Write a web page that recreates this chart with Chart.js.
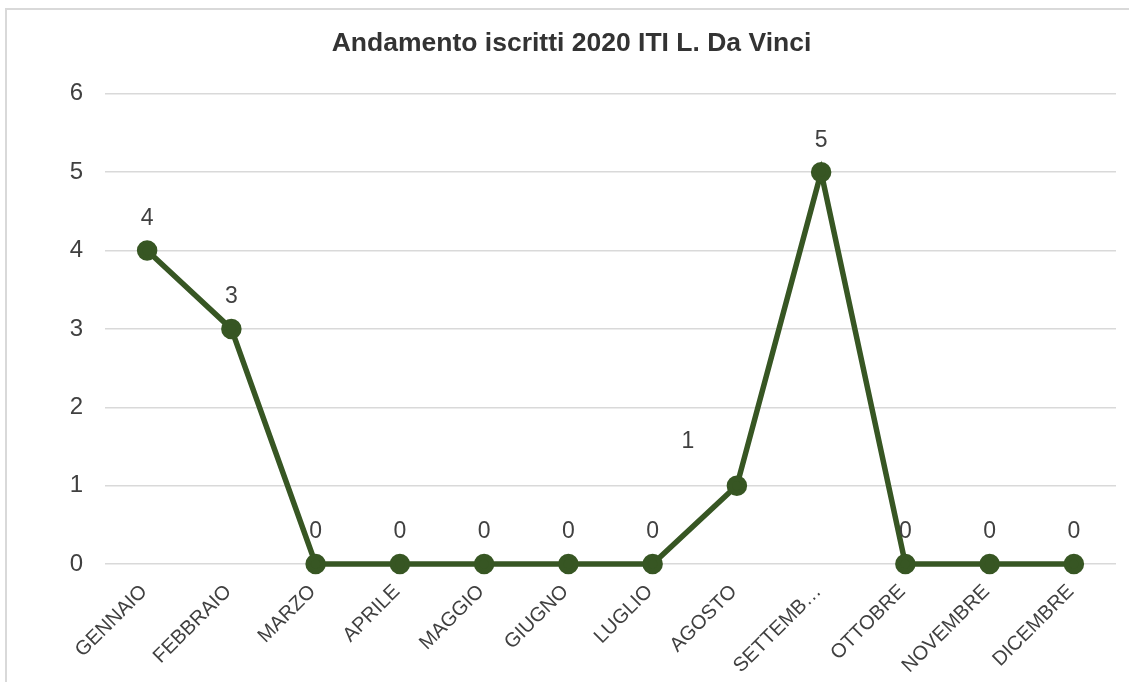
<!DOCTYPE html>
<html lang="it">
<head>
<meta charset="UTF-8" />
<title>Andamento iscritti 2020</title>
<script src="https://cdn.jsdelivr.net/npm/chart.js"></script>
<style>
  body {
    margin: 0;
    background: #ffffff;
    overflow: hidden;
  }
  /* light frame round the chart, like the spreadsheet export */
  .frame {
    position: absolute;
    left: 5px;
    top: 8px;
    width: 1200px;
    height: 760px;
    border: 2px solid #d9d9d9;
  }
  .wrap {
    position: absolute;
    left: 0;
    top: 0;
    width: 1129px;
    height: 682px;
  }
</style>
</head>
<body>
<div class="frame"></div>
<div class="wrap"><canvas id="chart"></canvas></div>

<script>
const months = ['GENNAIO', 'FEBBRAIO', 'MARZO', 'APRILE', 'MAGGIO', 'GIUGNO',
                'LUGLIO', 'AGOSTO', 'SETTEMBRE', 'OTTOBRE', 'NOVEMBRE', 'DICEMBRE'];
const iscritti = [4, 3, 0, 0, 0, 0, 0, 1, 5, 0, 0, 0];
const yTicks = [0, 1, 2, 3, 4, 5, 6];

const FONT = "'Liberation Sans', Arial, sans-serif";
const GREEN = '#375623';

// value labels drawn over each point (no datalabels plugin available)
const valueLabels = {
  id: 'valueLabels',
  afterDatasetsDraw(chart, args, opts) {
    const ctx = chart.ctx;
    const meta = chart.getDatasetMeta(0);
    ctx.save();
    ctx.font = '23px ' + FONT;
    ctx.fillStyle = '#404040';
    ctx.textAlign = 'center';
    ctx.textBaseline = 'middle';
    meta.data.forEach((pt, i) => {
      const left = opts.leftOf.includes(i);
      const dx = left ? -49 : 0;
      const dy = left ? -44 : -32;
      ctx.fillText(String(iscritti[i]), pt.x + dx, pt.y + dy);
    });
    ctx.restore();
  }
};

Chart.defaults.font.family = FONT;
Chart.defaults.color = '#404040';

new Chart(document.getElementById('chart'), {
  type: 'line',
  data: {
    labels: months,
    datasets: [{
      label: 'Iscritti',
      data: iscritti,
      borderColor: GREEN,
      backgroundColor: GREEN,
      borderWidth: 5.5,
      pointRadius: 7.5,
      pointHoverRadius: 7.5,
      tension: 0,
      clip: false
    }]
  },
  options: {
    responsive: true,
    maintainAspectRatio: false,
    animation: false,
    layout: { padding: { top: 20, right: 10, left: 24, bottom: 0 } },
    plugins: {
      legend: { display: false },
      tooltip: { enabled: false },
      title: {
        display: true,
        text: 'Andamento iscritti 2020 ITI L. Da Vinci',
        color: '#333333',
        font: { size: 26.5, weight: 'bold' },
        padding: { top: 8, bottom: 34 }
      },
      valueLabels: { leftOf: [7] }
    },
    scales: {
      x: {
        offset: true,
        grid: { display: false },
        border: { display: false },
        ticks: {
          color: '#404040',
          font: { size: 20 },
          minRotation: 45,
          maxRotation: 45,
          padding: 8,
          labelOffset: -3,
          callback(v, i) {
            const s = months[i];
            return s.length > 8 ? s.slice(0, 7) + '…' : s;
          }
        },
        afterFit(scale) { scale.height = 118; }
      },
      y: {
        min: 0,
        max: 6,
        afterBuildTicks(scale) { scale.ticks = yTicks.map(v => ({ value: v })); },
        grid: { color: '#d9d9d9', lineWidth: 1.5, drawTicks: false },
        border: { display: false },
        ticks: {
          color: '#404040',
          font: { size: 24 },
          padding: 22
        },
        afterFit(scale) { scale.width = 81; }
      }
    }
  },
  plugins: [valueLabels]
});
</script>
</body>
</html>
